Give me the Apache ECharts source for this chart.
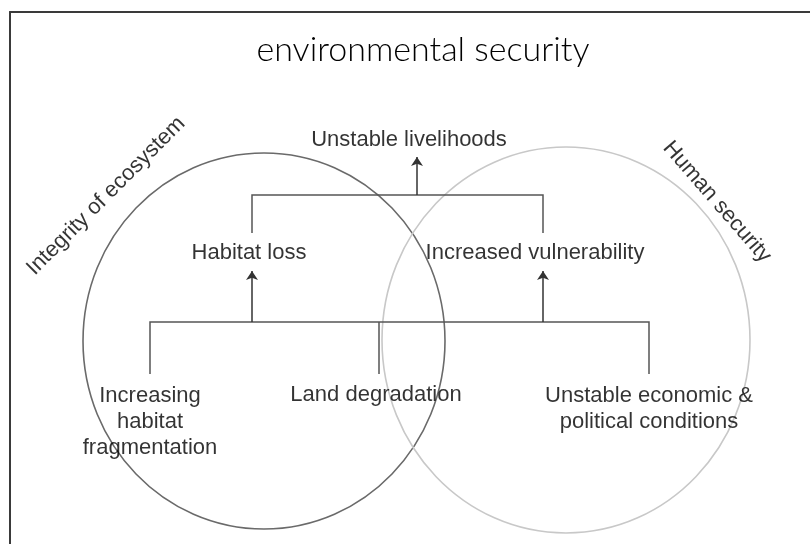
<!DOCTYPE html>
<html lang="en">
<head>
    <meta charset="UTF-8">
    <title>environmental security</title>
    <script src="https://cdn.jsdelivr.net/npm/echarts@6/dist/echarts.min.js"></script>
    <style>
        html, body { margin: 0; padding: 0; background: #fff; }
    </style>
</head>
<body>
    <div id="chart" style="width: 810px; height: 544px;"></div>
    <script>
        // diagram units are page pixels (x right, y down)
        var circleNames = ['Integrity of ecosystem', 'Human security'];
        var circleCx = [264, 566];
        var circleCy = [341, 340];
        var circleRx = [181, 184];
        var circleRy = [188, 193];
        var circleColors = ['#6a6a6a', '#c8c8c8'];

        var circleLabelX = [106, 717];
        var circleLabelY = [196, 202];
        var circleLabelRotate = [45, -49];

        var nodeNames = ['Unstable livelihoods', 'Habitat loss', 'Increased vulnerability',
            'Increasing\nhabitat\nfragmentation', 'Land degradation',
            'Unstable economic &\npolitical conditions'];
        var nodeX = [409, 249, 535, 150, 376, 649];
        var nodeY = [140, 253, 253, 422, 395, 409];

        // bracket connectors (polylines)
        var brackets = [
            [[252, 233], [252, 195], [543, 195], [543, 233]],
            [[150, 374], [150, 322], [649, 322], [649, 374]],
            [[379, 322], [379, 374]]
        ];
        // arrows: from -> to
        var arrows = [
            [[417, 195], [417, 157]],
            [[252, 322], [252, 271]],
            [[543, 322], [543, 271]]
        ];

        var chart = echarts.init(document.getElementById('chart'));

        var circleData = circleCx.map(function (cx, i) {
            return { name: circleNames[i], value: [cx, circleCy[i], circleRx[i], circleRy[i]], color: circleColors[i] };
        });

        var frameLine = { show: true, lineStyle: { color: '#3a3a3a', width: 2 } };

        var option = {
            animation: false,
            title: {
                text: 'environmental security',
                left: 418,
                textAlign: 'center',
                top: 28,
                textStyle: { fontFamily: 'Lato', fontWeight: 300, fontSize: 34, color: '#000' }
            },
            grid: { left: 10, top: 12, right: 0, bottom: 0 },
            // the two axis lines make the frame's left and top edges
            xAxis: {
                type: 'value', min: 10, max: 810, position: 'top',
                axisLine: frameLine, axisTick: { show: false }, axisLabel: { show: false }, splitLine: { show: false }
            },
            yAxis: {
                type: 'value', min: 12, max: 544, inverse: true, position: 'left',
                axisLine: frameLine, axisTick: { show: false }, axisLabel: { show: false }, splitLine: { show: false }
            },
            series: [
                {
                    type: 'custom',
                    renderItem: function (params, api) {
                        var c = api.coord([api.value(0), api.value(1)]);
                        var s = api.size([api.value(2), api.value(3)]);
                        return {
                            type: 'ellipse',
                            shape: { cx: c[0], cy: c[1], rx: s[0], ry: s[1] },
                            style: { fill: 'none', stroke: circleData[params.dataIndex].color, lineWidth: 1.6 }
                        };
                    },
                    data: circleData,
                    silent: true
                },
                {
                    type: 'lines',
                    coordinateSystem: 'cartesian2d',
                    polyline: true,
                    lineStyle: { color: '#555', width: 1.5, opacity: 1 },
                    data: brackets.map(function (b) { return { coords: b }; }),
                    silent: true
                },
                {
                    type: 'lines',
                    coordinateSystem: 'cartesian2d',
                    symbol: ['none', 'arrow'],
                    symbolSize: 9,
                    lineStyle: { color: '#333', width: 1.5, opacity: 1 },
                    data: arrows.map(function (a) { return { coords: a }; }),
                    silent: true
                },
                {
                    type: 'scatter',
                    symbolSize: 0,
                    data: nodeNames.map(function (n, i) { return { name: n, value: [nodeX[i], nodeY[i]] }; }),
                    label: {
                        show: true, position: 'inside', formatter: '{b}',
                        fontFamily: 'Liberation Sans', fontSize: 22, lineHeight: 26,
                        color: '#000', align: 'center'
                    },
                    silent: true
                },
                {
                    type: 'scatter',
                    symbolSize: 0,
                    data: circleNames.map(function (n, i) {
                        return { name: n, value: [circleLabelX[i], circleLabelY[i]], label: { rotate: circleLabelRotate[i] } };
                    }),
                    label: {
                        show: true, position: 'inside', formatter: '{b}',
                        fontFamily: 'Liberation Sans', fontSize: 22, color: '#000'
                    },
                    silent: true
                }
            ]
        };

        chart.setOption(option);
    </script>
</body>
</html>
